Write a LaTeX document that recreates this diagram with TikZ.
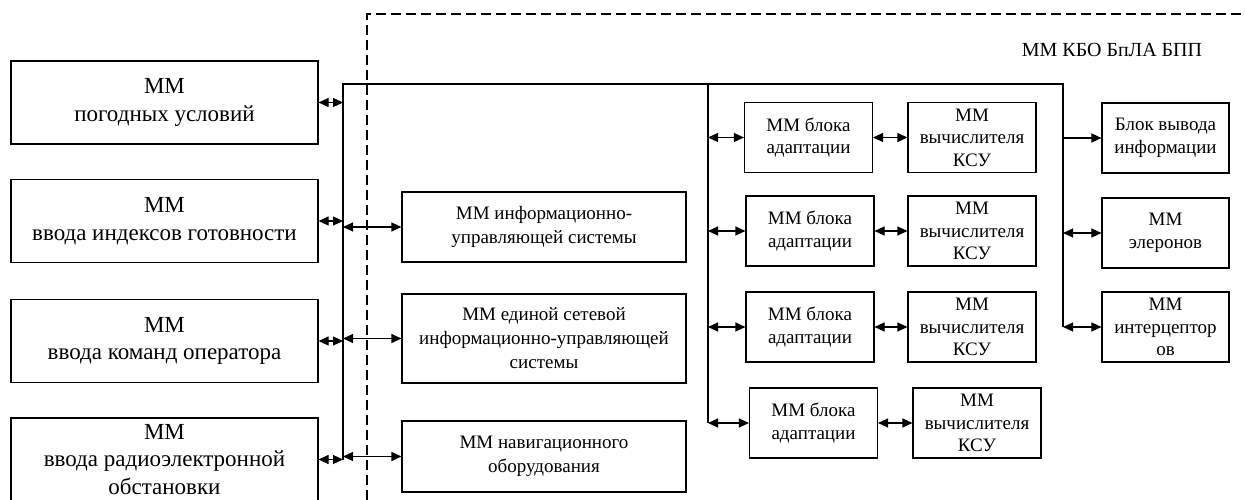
\documentclass[tikz,border=0pt]{standalone}
\usepackage{fontspec}
\setmainfont{Liberation Serif}
\usetikzlibrary{arrows.meta, positioning, calc}
\tikzset{
  blk/.style={draw, line width=1.1pt, align=center, inner sep=1pt},
  bigblk/.style={blk, minimum width=307pt, minimum height=83pt, font=\fontsize{23}{27.5}\selectfont},
  midblk/.style={blk, minimum width=284pt, font=\fontsize{19}{24}\selectfont},
  smallblk/.style={blk, minimum width=128pt, minimum height=70pt, font=\fontsize{19}{22.5}\selectfont},
  link/.style={line width=1.1pt},
  dbl/.style={link, {Triangle[length=10pt,width=9pt]}-{Triangle[length=10pt,width=9pt]}},
  sgl/.style={link, -{Triangle[length=10pt,width=9pt]}},
}
\begin{document}
\begin{tikzpicture}[x=1pt, y=-1pt]
  \useasboundingbox (0,0) rectangle (1245,500);
  \draw[line width=1.1pt, dash pattern=on 10pt off 5pt] (367,500) -- (367,14) -- (1245,14);
  \node[font=\fontsize{20}{24}\selectfont] (title) at (1112,50) {ММ КБО БпЛА БПП};

  \node[bigblk] (l1) at (164.5,102.5) {ММ\\погодных условий};
  \node[bigblk] (l2) at (164.5,221) {ММ\\ввода индексов готовности};
  \node[bigblk] (l3) at (164.5,341) {ММ\\ввода команд оператора};
  \node[bigblk] (l4) at (164.5,459.5) {ММ\\ввода радиоэлектронной\\обстановки};

  \node[midblk, minimum height=70pt] (mA) at (544,227) {ММ информационно-\\управляющей системы};
  \node[midblk, minimum height=89pt] (mB) at (544,338.5) {ММ единой сетевой\\информационно-управляющей\\системы};
  \node[midblk, minimum height=71pt] (mC) at (544,456.5) {ММ навигационного\\оборудования};

  \foreach \i/\ax/\kx/\y in {1/808.5/972/137.5, 2/810/972/231, 3/810/972/327, 4/813.5/977/423} {
    \node[smallblk] (a\i) at (\ax,\y) {ММ блока\\адаптации};
    \node[smallblk] (k\i) at (\kx,\y) {ММ\\вычислителя\\КСУ};
  }

  \node[smallblk, minimum width=127pt] (r1) at (1165.5,138) {Блок вывода\\информации};
  \node[smallblk, minimum width=127pt] (r2) at (1165.5,233) {ММ\\элеронов};
  \node[smallblk, minimum width=127pt] (r3) at (1165.5,327) {ММ\\интерцептор\\ов};

  \coordinate (bl) at (343,84);
  \coordinate (bm) at (708,84);
  \coordinate (br) at (1063,84);
  \draw[link] (l4.east -| bl) -- (bl) -- (br) -- (r3.west -| br);
  \draw[link] (bm) -- (a4.west -| bm);

  \foreach \b in {l1,l2,l3,l4}
    \draw[dbl] (\b.east) -- (\b.east -| bl);
  \foreach \m in {mA, mB, mC}
    \draw[dbl] (\m.west -| bl) -- (\m.west);
  \foreach \i in {1,...,4} {
    \draw[dbl] (a\i.west -| bm) -- (a\i.west);
    \draw[dbl] (a\i.east) -- (a\i.east -| k\i.west);
  }
  \draw[sgl] (r1.west -| br) -- (r1.west);
  \draw[dbl] (r2.west -| br) -- (r2.west);
  \draw[dbl] (r3.west -| br) -- (r3.west);
\end{tikzpicture}
\end{document}
